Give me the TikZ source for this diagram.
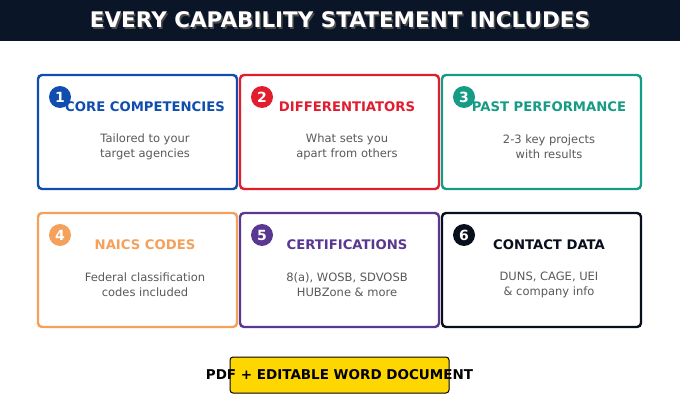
\documentclass[tikz,border=0pt]{standalone}
\usepackage{fontspec}
\setmainfont{DejaVu Sans}
\begin{document}
\begin{tikzpicture}[x=1pt,y=-1pt,
  card/.style={draw=#1,line width=2.4pt,rounded corners=4pt,fill=white},
  num/.style={circle,fill=#1,minimum size=22pt,inner sep=0pt,text=white,font=\bfseries\fontsize{14}{14}\selectfont},
  ttl/.style={text=#1,font=\bfseries\fontsize{13.2}{15}\selectfont},
  desc/.style={text=black!65,font=\fontsize{11.5}{15}\selectfont,align=center}]
\definecolor{cA}{HTML}{0F4DAE}\definecolor{cB}{HTML}{E11D2E}\definecolor{cC}{HTML}{169C85}
\definecolor{cD}{HTML}{F4A15B}\definecolor{cE}{HTML}{5A3790}\definecolor{cF}{HTML}{0A0F1E}
\definecolor{navy}{HTML}{0A1628}\definecolor{gold}{HTML}{FFD700}
\useasboundingbox (0,0) rectangle (680,409);
\fill[navy] (0,0) rectangle (680,41);
\node[text=black!70] at (341.5,21.5) {\bfseries\fontsize{21.5}{24}\selectfont EVERY CAPABILITY STATEMENT INCLUDES};
\node (title) [text=white] at (340,20) {\bfseries\fontsize{21.5}{24}\selectfont EVERY CAPABILITY STATEMENT INCLUDES};
\foreach \x/\y/\c/\n/\t/\da/\db/\tx in {
 38/75/cA/1/CORE COMPETENCIES/Tailored to your/target agencies/145,
 240/75/cB/2/DIFFERENTIATORS/What sets you/apart from others/347,
 442/75/cC/3/PAST PERFORMANCE/2-3 key projects/with results/549,
 38/213/cD/4/NAICS CODES/Federal classification/codes included/145,
 240/213/cE/5/CERTIFICATIONS/{8(a), WOSB, SDVOSB}/HUBZone \& more/347,
 442/213/cF/6/CONTACT DATA/{DUNS, CAGE, UEI}/\& company info/549}{
  \draw[card=\c] (\x,\y) rectangle +(199,114);
  \node[ttl=\c] (t\n) at (\tx,\y+31.5) {\t};
  \node[num=\c] (n\n) at (\x+22,\y+22) {\n};
  \node[desc] (d\n) at (\x+107,\y+71.5) {\da\\\db};
}
\node[draw=black,line width=1pt,fill=gold,rounded corners=3pt,minimum width=219pt,minimum height=36pt] (btn) at (339.5,375) {};
\node[font=\bfseries\fontsize{13.5}{15}\selectfont] (bt) at (339.5,375) {PDF + EDITABLE WORD DOCUMENT};
\end{tikzpicture}
\end{document}
